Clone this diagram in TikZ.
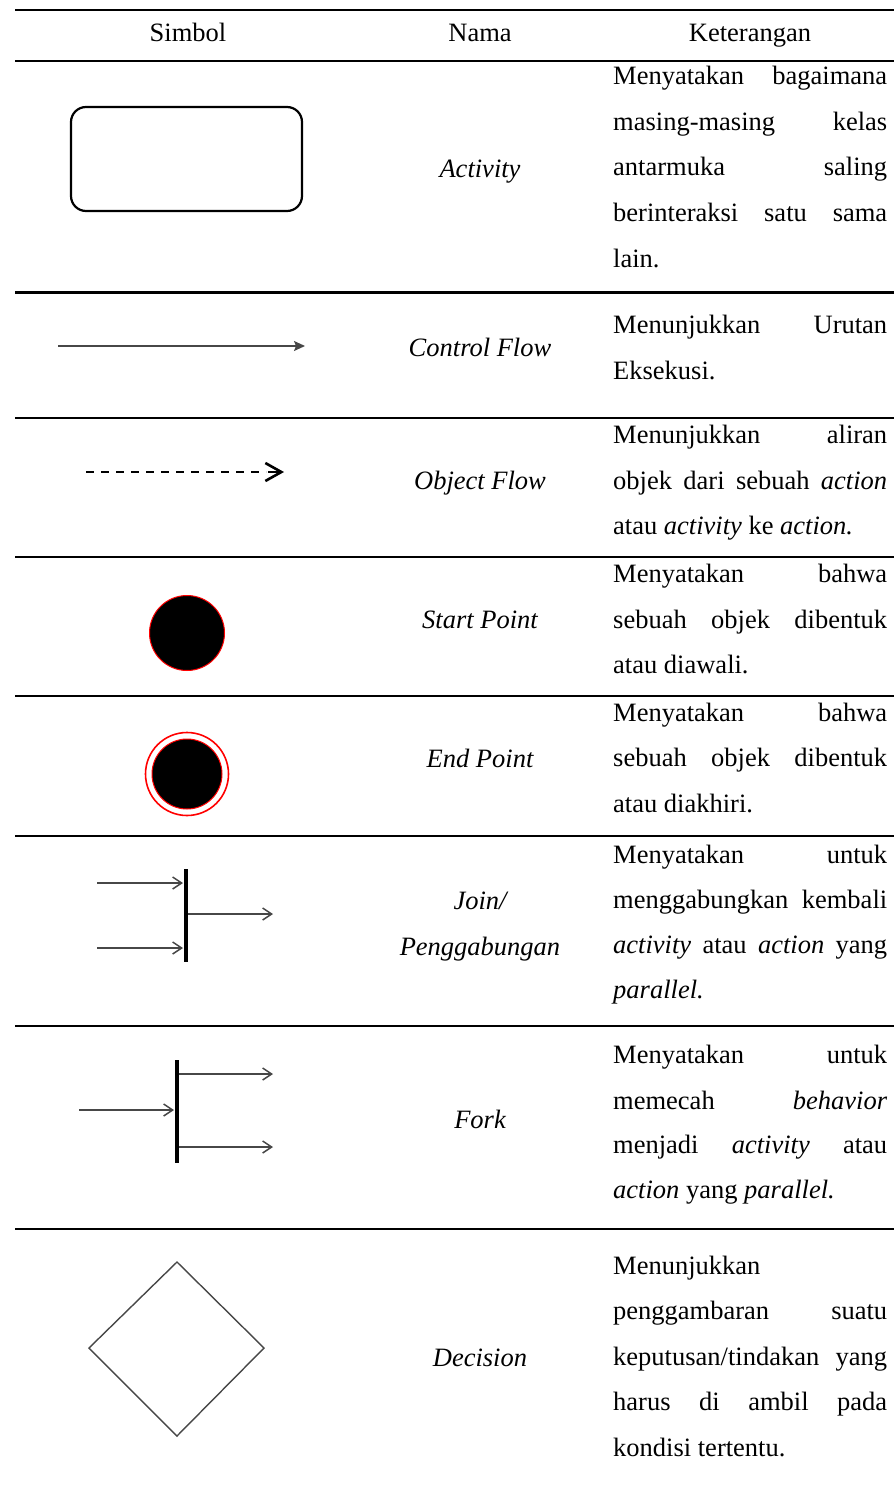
\documentclass[tikz,border=0pt]{standalone}
\usepackage{fontspec}
\setmainfont{Liberation Serif}
\usetikzlibrary{arrows.meta}
\newcommand\jline[1]{\makebox[274pt][s]{#1}}
\begin{document}
\begin{tikzpicture}[x=1pt,y=-1pt,
  every node/.style={inner sep=0pt,font=\fontsize{26.5}{30}\selectfont},
  desctxt/.style={anchor=base west},
  headtxt/.style={anchor=base},
  nametxt/.style={anchor=base,font=\fontsize{26.5}{30}\selectfont\itshape},
  tblrule/.style={line width=2.6pt},
  flowline/.style={line width=1.5pt,draw=black!72},
  barbtip/.style={-{Straight Barb[length=9pt,width=12pt]}},
  forkbar/.style={line width=3.6pt}]
\useasboundingbox (0,0) rectangle (894,1490);

% table rules
\foreach \y in {10,61,292.5,418,557,696,836,1026,1229}
  \draw[tblrule] (15,\y) -- (894,\y);

% header
\node[headtxt] (hs) at (188,42) {Simbol};
\node[headtxt] (hn) at (480,42) {Nama};
\node[headtxt] (hk) at (750,42) {Keterangan};

% row 1: activity
\draw[line width=2.2pt,rounded corners=15pt] (71,107) rectangle (302,211);
\node[nametxt] (n1) at (480,178) {Activity};
\node[desctxt] (k1a) at (613,85) {\jline{Menyatakan bagaimana}};
\node[desctxt] (k1b) at (613,130.5) {\jline{masing-masing kelas}};
\node[desctxt] (k1c) at (613,176) {\jline{antarmuka saling}};
\node[desctxt] (k1d) at (613,221.5) {\jline{berinteraksi satu sama}};
\node[desctxt] (k1e) at (613,267) {lain.};

% row 2: control flow
\coordinate (cf1) at (58,346);
\coordinate (cf2) at (305,346);
\draw[flowline,-{Stealth[length=11pt,width=10pt,inset=2pt]}] (cf1) -- (cf2);
\node[nametxt] (n2) at (480,356) {Control Flow};
\node[desctxt] (k2a) at (613,333) {\jline{Menunjukkan Urutan}};
\node[desctxt] (k2b) at (613,379) {Eksekusi.};

% row 3: object flow
\coordinate (of1) at (86,472);
\coordinate (of2) at (284,472);
\draw[line width=2.6pt,dash pattern=on 8pt off 7pt] (of1) -- (266,472);
\draw[line width=2.6pt,-{Straight Barb[length=16pt,width=18pt]}] (268,472) -- (of2);
\node[nametxt] (n3) at (480,489) {Object Flow};
\node[desctxt] (k3a) at (613,443) {\jline{Menunjukkan aliran}};
\node[desctxt] (k3b) at (613,489) {\jline{objek dari sebuah \textit{action}}};
\node[desctxt] (k3c) at (613,534) {atau \textit{activity} ke \textit{action.}};

% row 4: start point
\fill[black,draw=red,line width=1pt] (187,633) circle (37.5);
\node[nametxt] (n4) at (480,628) {Start Point};
\node[desctxt] (k4a) at (613,582) {\jline{Menyatakan bahwa}};
\node[desctxt] (k4b) at (613,628) {\jline{sebuah objek dibentuk}};
\node[desctxt] (k4c) at (613,673) {atau diawali.};

% row 5: end point
\draw[red,line width=1.6pt] (187,774) circle (41.5);
\fill[black,draw=red,line width=1pt] (187,774) circle (35);
\node[nametxt] (n5) at (480,767) {End Point};
\node[desctxt] (k5a) at (613,721) {\jline{Menyatakan bahwa}};
\node[desctxt] (k5b) at (613,766) {\jline{sebuah objek dibentuk}};
\node[desctxt] (k5c) at (613,812) {atau diakhiri.};

% row 6: join
\coordinate (jt) at (186,869);
\coordinate (jb) at (186,962);
\draw[forkbar] (jt) -- (jb);
\coordinate (ja) at (97,883);
\coordinate (jaE) at (183,883);
\coordinate (jc) at (97,948);
\coordinate (jcE) at (183,948);
\coordinate (jo) at (188,914);
\coordinate (joE) at (273,914);
\draw[flowline,barbtip] (ja) -- (jaE);
\draw[flowline,barbtip] (jc) -- (jcE);
\draw[flowline,barbtip] (jo) -- (joE);
\node[nametxt] (n6a) at (480,909) {Join/};
\node[nametxt] (n6b) at (480,955) {Penggabungan};
\node[desctxt] (k6a) at (613,863) {\jline{Menyatakan untuk}};
\node[desctxt] (k6b) at (613,908) {\jline{menggabungkan kembali}};
\node[desctxt] (k6c) at (613,953) {\jline{\textit{activity} atau \textit{action} yang}};
\node[desctxt] (k6d) at (613,998) {\textit{parallel.}};

% row 7: fork
\coordinate (ft) at (177,1060);
\coordinate (fb) at (177,1163);
\draw[forkbar] (ft) -- (fb);
\coordinate (fi) at (79,1110);
\coordinate (fiE) at (174,1110);
\coordinate (fa) at (179,1074);
\coordinate (faE) at (273,1074);
\coordinate (fc) at (179,1147);
\coordinate (fcE) at (273,1147);
\draw[flowline,barbtip] (fi) -- (fiE);
\draw[flowline,barbtip] (fa) -- (faE);
\draw[flowline,barbtip] (fc) -- (fcE);
\node[nametxt] (n7) at (480,1128) {Fork};
\node[desctxt] (k7a) at (613,1063) {\jline{Menyatakan untuk}};
\node[desctxt] (k7b) at (613,1109) {\jline{memecah \textit{behavior}}};
\node[desctxt] (k7c) at (613,1153) {\jline{menjadi \textit{activity} atau}};
\node[desctxt] (k7d) at (613,1198) {\textit{action} yang \textit{parallel.}};

% row 8: decision
\draw[line width=1.4pt,draw=black!72,line join=miter]
  (177,1262) -- (264,1348) -- (177,1436) -- (89,1348) -- cycle;
\node[nametxt] (n8) at (480,1366) {Decision};
\node[desctxt] (k8a) at (613,1274) {Menunjukkan};
\node[desctxt] (k8b) at (613,1319.5) {\jline{penggambaran suatu}};
\node[desctxt] (k8c) at (613,1365) {\jline{keputusan/tindakan yang}};
\node[desctxt] (k8d) at (613,1410.5) {\jline{harus di ambil pada}};
\node[desctxt] (k8e) at (613,1456) {kondisi tertentu.};
\end{tikzpicture}
\end{document}
